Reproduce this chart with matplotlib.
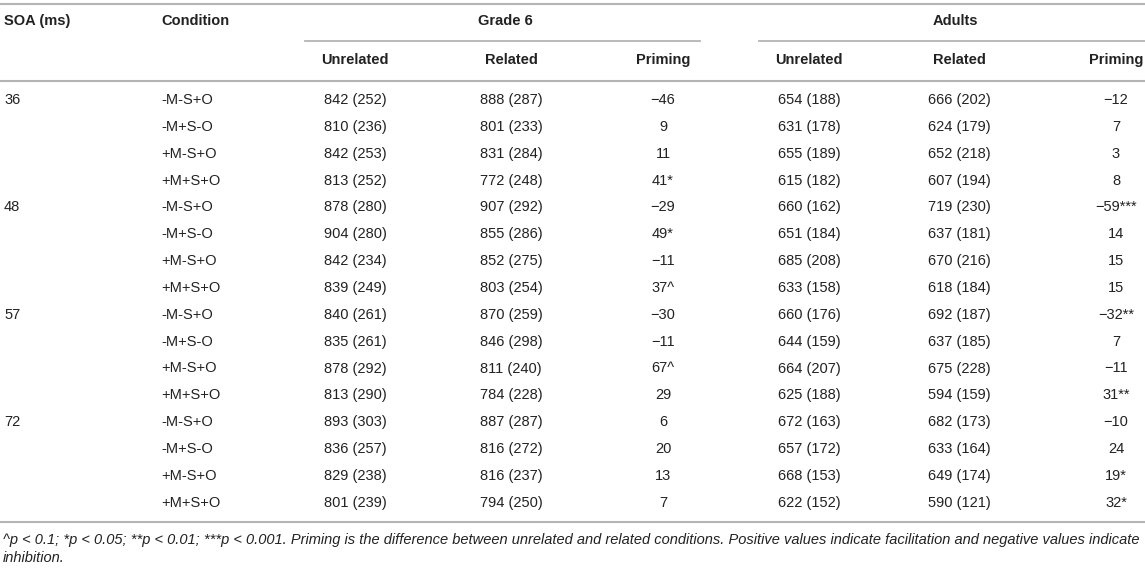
import matplotlib
matplotlib.use('Agg')
import matplotlib.pyplot as plt

# table values (mean RT (SD), priming effect)
soa = ['36', '48', '57', '72']
conditions = ['-M-S+O', '-M+S-O', '+M-S+O', '+M+S+O']

g6_unrel = [842, 810, 842, 813, 878, 904, 842, 839, 840, 835, 878, 813, 893, 836, 829, 801]
g6_unrel_sd = [252, 236, 253, 252, 280, 280, 234, 249, 261, 261, 292, 290, 303, 257, 238, 239]
g6_rel = [888, 801, 831, 772, 907, 855, 852, 803, 870, 846, 811, 784, 887, 816, 816, 794]
g6_rel_sd = [287, 233, 284, 248, 292, 286, 275, 254, 259, 298, 240, 228, 287, 272, 237, 250]
g6_prime = [-46, 9, 11, 41, -29, 49, -11, 37, -30, -11, 67, 29, 6, 20, 13, 7]
g6_sig = ['', '', '', '*', '', '*', '', '^', '', '', '^', '', '', '', '', '']

ad_unrel = [654, 631, 655, 615, 660, 651, 685, 633, 660, 644, 664, 625, 672, 657, 668, 622]
ad_unrel_sd = [188, 178, 189, 182, 162, 184, 208, 158, 176, 159, 207, 188, 163, 172, 153, 152]
ad_rel = [666, 624, 652, 607, 719, 637, 670, 618, 692, 637, 675, 594, 682, 633, 649, 590]
ad_rel_sd = [202, 179, 218, 194, 230, 181, 216, 184, 187, 185, 228, 159, 173, 164, 174, 121]
ad_prime = [-12, 7, 3, 8, -59, 14, 15, 15, -32, 7, -11, 31, -10, 24, 19, 32]
ad_sig = ['', '', '', '', '***', '', '', '', '**', '', '', '**', '', '', '*', '*']

sub_headers = ['Unrelated', 'Related', 'Priming']
footnote = ('^p < 0.1; *p < 0.05; **p < 0.01; ***p < 0.001. Priming is the difference between '
            'unrelated and related conditions. Positive values indicate facilitation and negative '
            'values indicate\ninhibition.')

plt.rcParams['font.family'] = ['Liberation Sans', 'DejaVu Sans']

W, H = 1145, 568
fig = plt.figure(figsize=(W / 100, H / 100), dpi=100)
ax = fig.add_axes([0, 0, 1, 1])
ax.set_xlim(0, W)
ax.set_ylim(H, 0)
ax.axis('off')

fs = 10.5
txt = '#222222'
line_c = '#b4b4b4'

# column layout (pixels)
x_soa, x_cond = 4, 161
g6_x = [355, 511, 663]
ad_x = [809, 959, 1116]
y_h1, y_h2 = 21, 60
row0, row_step = 100, 26.85


def num(v):
    return str(v).replace('-', '\u2212')


# rules
ax.plot([0, W], [4, 4], color=line_c, lw=1.5)
ax.plot([305, 700], [41, 41], color=line_c, lw=1.3)
ax.plot([759, W], [41, 41], color=line_c, lw=1.3)
ax.plot([0, W], [81, 81], color=line_c, lw=1.5)
ax.plot([0, W], [522, 522], color=line_c, lw=1.5)

# headers
ax.text(x_soa, y_h1, 'SOA (ms)', fontsize=fs, fontweight='bold', va='center', ha='left', color=txt)
ax.text(x_cond, y_h1, 'Condition', fontsize=fs, fontweight='bold', va='center', ha='left', color=txt)
ax.text(g6_x[1] - 6, y_h1, 'Grade 6', fontsize=fs, fontweight='bold', va='center', ha='center', color=txt)
ax.text(ad_x[1] - 4, y_h1, 'Adults', fontsize=fs, fontweight='bold', va='center', ha='center', color=txt)
for xs in (g6_x, ad_x):
    for x, h in zip(xs, sub_headers):
        ax.text(x, y_h2, h, fontsize=fs, fontweight='bold', va='center', ha='center', color=txt)

# body
for i in range(len(g6_unrel)):
    y = row0 + i * row_step
    if i % 4 == 0:
        ax.text(x_soa, y, soa[i // 4], fontsize=fs, va='center', ha='left', color=txt)
    ax.text(x_cond, y, conditions[i % 4], fontsize=fs, va='center', ha='left', color=txt)
    ax.text(g6_x[0], y, f'{g6_unrel[i]} ({g6_unrel_sd[i]})', fontsize=fs, va='center', ha='center', color=txt)
    ax.text(g6_x[1], y, f'{g6_rel[i]} ({g6_rel_sd[i]})', fontsize=fs, va='center', ha='center', color=txt)
    ax.text(g6_x[2], y, num(g6_prime[i]) + g6_sig[i], fontsize=fs, va='center', ha='center', color=txt)
    ax.text(ad_x[0], y, f'{ad_unrel[i]} ({ad_unrel_sd[i]})', fontsize=fs, va='center', ha='center', color=txt)
    ax.text(ad_x[1], y, f'{ad_rel[i]} ({ad_rel_sd[i]})', fontsize=fs, va='center', ha='center', color=txt)
    ax.text(ad_x[2], y, num(ad_prime[i]) + ad_sig[i], fontsize=fs, va='center', ha='center', color=txt)

ax.text(3, 533, footnote, fontsize=10.5, style='italic', va='top', ha='left', color=txt, linespacing=1.4)

fig.savefig('out.png', dpi=100)
